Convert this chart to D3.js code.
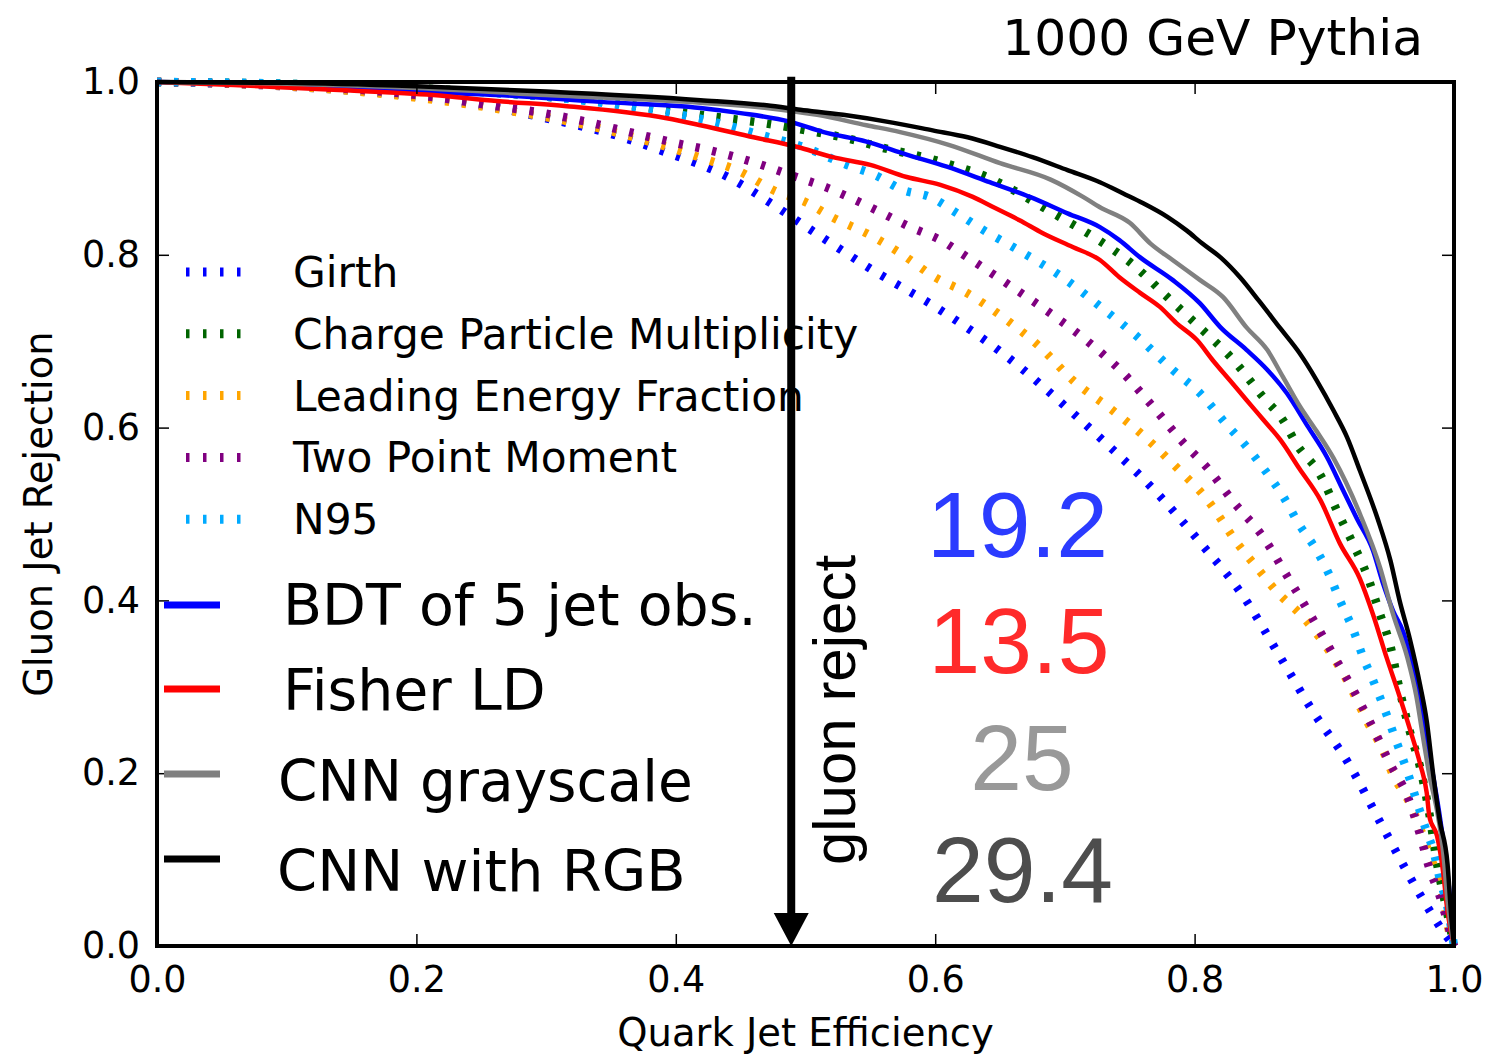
<!DOCTYPE html>
<html>
<head>
<meta charset="utf-8">
<script src="https://cdn.jsdelivr.net/npm/d3@7"></script>
<style>
  html, body { margin: 0; padding: 0; background: #fff; }
  svg { display: block; }
</style>
</head>
<body>
<svg id="chart" width="1500" height="1054"></svg>
<script>
// ---------------- DATA ----------------
const xTicks = [0, 0.2, 0.4, 0.6, 0.8, 1.0];
const yTicks = [0, 0.2, 0.4, 0.6, 0.8, 1.0];
const tickLabels = ["0.0", "0.2", "0.4", "0.6", "0.8", "1.0"];

const girth = [[0,1.0],[0.1,0.995],[0.2,0.983],[0.262,0.970],[0.3,0.958],[0.35,0.940],[0.388,0.921],[0.444,0.887],[0.473,0.860],[0.493,0.840],[0.55,0.784],[0.604,0.736],[0.652,0.686],[0.706,0.617],[0.733,0.580],[0.768,0.529],[0.806,0.464],[0.837,0.406],[0.867,0.332],[0.891,0.272],[0.918,0.213],[0.945,0.138],[0.974,0.059],[0.992,0.016],[1.0,0.0]];
const chargeMult = [[0,1.0],[0.1,0.998],[0.2,0.993],[0.3,0.983],[0.35,0.976],[0.429,0.960],[0.478,0.950],[0.501,0.944],[0.537,0.933],[0.559,0.924],[0.594,0.912],[0.617,0.902],[0.640,0.890],[0.660,0.875],[0.691,0.848],[0.725,0.818],[0.753,0.788],[0.779,0.751],[0.804,0.716],[0.830,0.678],[0.853,0.635],[0.868,0.609],[0.879,0.580],[0.897,0.545],[0.910,0.503],[0.922,0.466],[0.933,0.429],[0.943,0.384],[0.951,0.347],[0.958,0.297],[0.966,0.248],[0.974,0.206],[0.981,0.153],[0.987,0.095],[0.995,0.037],[1.0,0.0]];
const leadEnergy = [[0,1.0],[0.1,0.995],[0.2,0.982],[0.262,0.969],[0.331,0.950],[0.424,0.910],[0.447,0.898],[0.478,0.873],[0.500,0.861],[0.520,0.844],[0.552,0.821],[0.573,0.802],[0.601,0.773],[0.623,0.757],[0.652,0.728],[0.681,0.693],[0.706,0.655],[0.735,0.622],[0.758,0.594],[0.786,0.554],[0.810,0.516],[0.833,0.466],[0.848,0.438],[0.864,0.409],[0.884,0.380],[0.907,0.334],[0.918,0.306],[0.933,0.260],[0.945,0.227],[0.953,0.198],[0.966,0.165],[0.974,0.136],[0.981,0.106],[0.987,0.082],[0.992,0.053],[0.997,0.012],[1.0,0.0]];
const twoPoint = [[0,1.0],[0.1,0.996],[0.2,0.985],[0.262,0.972],[0.298,0.964],[0.331,0.954],[0.367,0.941],[0.401,0.929],[0.426,0.921],[0.460,0.907],[0.493,0.890],[0.516,0.878],[0.550,0.855],[0.581,0.832],[0.604,0.817],[0.625,0.797],[0.660,0.762],[0.691,0.730],[0.719,0.698],[0.745,0.663],[0.768,0.624],[0.791,0.583],[0.810,0.553],[0.830,0.514],[0.853,0.473],[0.871,0.429],[0.889,0.384],[0.907,0.337],[0.925,0.289],[0.938,0.251],[0.951,0.210],[0.964,0.174],[0.974,0.128],[0.981,0.090],[0.989,0.058],[0.997,0.016],[1.0,0.0]];
const n95 = [[0,1.0],[0.1,0.998],[0.2,0.992],[0.3,0.983],[0.367,0.971],[0.429,0.954],[0.465,0.939],[0.498,0.925],[0.532,0.904],[0.554,0.892],[0.575,0.875],[0.596,0.867],[0.617,0.848],[0.640,0.826],[0.660,0.809],[0.699,0.773],[0.729,0.738],[0.756,0.705],[0.783,0.667],[0.804,0.640],[0.825,0.603],[0.840,0.578],[0.856,0.547],[0.868,0.521],[0.881,0.487],[0.894,0.458],[0.904,0.429],[0.912,0.400],[0.922,0.367],[0.930,0.334],[0.938,0.306],[0.948,0.268],[0.956,0.235],[0.964,0.202],[0.971,0.169],[0.979,0.132],[0.984,0.111],[0.989,0.078],[0.995,0.045],[1.0,0.0]];
const bdt = [[0,1.0],[0.1,0.997],[0.213,0.988],[0.262,0.985],[0.342,0.977],[0.419,0.970],[0.450,0.964],[0.488,0.954],[0.514,0.942],[0.547,0.931],[0.578,0.916],[0.609,0.902],[0.642,0.884],[0.673,0.867],[0.702,0.848],[0.727,0.832],[0.742,0.817],[0.758,0.797],[0.783,0.771],[0.804,0.744],[0.820,0.716],[0.840,0.690],[0.856,0.667],[0.871,0.640],[0.887,0.602],[0.902,0.566],[0.914,0.529],[0.925,0.495],[0.9375,0.458],[0.945,0.421],[0.953,0.388],[0.961,0.363],[0.970,0.31],[0.980,0.23],[0.990,0.14],[0.996,0.07],[1.0,0.0]];
const fisher = [[0,1.0],[0.059,0.9965],[0.136,0.991],[0.213,0.985],[0.262,0.978],[0.316,0.972],[0.393,0.958],[0.419,0.950],[0.460,0.936],[0.493,0.925],[0.521,0.913],[0.550,0.904],[0.578,0.890],[0.604,0.881],[0.629,0.867],[0.645,0.855],[0.665,0.840],[0.683,0.825],[0.706,0.809],[0.727,0.794],[0.742,0.774],[0.758,0.756],[0.773,0.740],[0.786,0.721],[0.802,0.701],[0.814,0.678],[0.827,0.655],[0.840,0.632],[0.853,0.609],[0.866,0.586],[0.881,0.552],[0.897,0.516],[0.912,0.466],[0.9275,0.425],[0.9375,0.384],[0.948,0.334],[0.958,0.289],[0.966,0.251],[0.974,0.210],[0.979,0.177],[0.981,0.150],[0.987,0.127],[0.9915,0.087],[0.995,0.040],[1.0,0.0]];
const cnnGray = [[0,1.0],[0.1,0.998],[0.2,0.993],[0.3,0.985],[0.419,0.976],[0.470,0.970],[0.509,0.962],[0.547,0.950],[0.573,0.942],[0.611,0.927],[0.650,0.906],[0.689,0.887],[0.714,0.867],[0.727,0.855],[0.750,0.837],[0.766,0.813],[0.783,0.794],[0.804,0.771],[0.822,0.751],[0.840,0.716],[0.856,0.690],[0.868,0.659],[0.881,0.625],[0.894,0.596],[0.907,0.565],[0.9275,0.500],[0.943,0.438],[0.953,0.384],[0.964,0.334],[0.971,0.289],[0.976,0.243],[0.981,0.198],[0.987,0.156],[0.9915,0.111],[0.995,0.053],[1.0,0.0]];
const cnnRGB = [[0,1.0],[0.1,0.999],[0.2,0.995],[0.3,0.989],[0.419,0.979],[0.470,0.973],[0.496,0.968],[0.529,0.962],[0.567,0.953],[0.598,0.944],[0.625,0.936],[0.650,0.925],[0.675,0.913],[0.702,0.898],[0.727,0.884],[0.745,0.871],[0.760,0.860],[0.779,0.844],[0.794,0.828],[0.806,0.813],[0.820,0.797],[0.835,0.774],[0.850,0.746],[0.866,0.715],[0.881,0.686],[0.894,0.655],[0.907,0.620],[0.9175,0.589],[0.9275,0.550],[0.941,0.495],[0.951,0.446],[0.958,0.400],[0.966,0.355],[0.974,0.301],[0.979,0.260],[0.984,0.198],[0.989,0.145],[0.995,0.095],[0.998,0.032],[1.0,0.0]];

const dottedNames = ["Girth", "Charge Particle Multiplicity", "Leading Energy Fraction", "Two Point Moment", "N95"];
const dottedColors = ["#0000ff", "#006400", "#ffa500", "#800080", "#00aaff"];
const dottedData = [girth, chargeMult, leadEnergy, twoPoint, n95];

const solidNames = ["BDT of 5 jet obs.", "Fisher LD", "CNN grayscale", "CNN with RGB"];
const solidColors = ["#0000ff", "#ff0000", "#808080", "#000000"];
const solidData = [bdt, fisher, cnnGray, cnnRGB];

const rejectValues = ["19.2", "13.5", "25", "29.4"];
const rejectColors = ["#2b3bff", "#ff2a2a", "#999999", "#4d4d4d"];

const workingPoint = 0.489;   // quark efficiency of the arrow
const titleText = "1000 GeV Pythia";
const xLabel = "Quark Jet Efficiency";
const yLabel = "Gluon Jet Rejection";

// ---------------- LAYOUT ----------------
const svg = d3.select("#chart");
const L = 157, R = 1454, T = 82, B = 946;
const x = d3.scaleLinear().domain([0, 1]).range([L, R]);
const y = d3.scaleLinear().domain([0, 1]).range([B, T]);
const DV = "'DejaVu Sans', sans-serif";
const LS = "'Liberation Sans', Arial, sans-serif";

const line = d3.line().x(d => x(d[0])).y(d => y(d[1])).curve(d3.curveMonotoneX);

// curves
const gCurves = svg.append("g");
dottedData.forEach((d, i) => {
  gCurves.append("path").attr("d", line(d)).attr("fill", "none")
    .attr("stroke", dottedColors[i]).attr("stroke-width", 8.5)
    .attr("stroke-dasharray", "4.2,12.8");
});
solidData.forEach((d, i) => {
  gCurves.append("path").attr("d", line(d)).attr("fill", "none")
    .attr("stroke", solidColors[i]).attr("stroke-width", 4.5)
    .attr("stroke-linejoin", "round");
});

// axes (inward ticks on all sides)
const tickLen = 12;
const axB = d3.axisBottom(x).tickValues(xTicks).tickFormat((d, i) => tickLabels[i]).tickSizeInner(-tickLen).tickSizeOuter(0).tickPadding(20);
const axT = d3.axisTop(x).tickValues(xTicks).tickFormat("").tickSizeInner(-tickLen).tickSizeOuter(0);
const axL = d3.axisLeft(y).tickValues(yTicks).tickFormat((d, i) => tickLabels[i]).tickSizeInner(-tickLen).tickSizeOuter(0).tickPadding(17);
const axR = d3.axisRight(y).tickValues(yTicks).tickFormat("").tickSizeInner(-tickLen).tickSizeOuter(0);

function styleAxis(g) {
  g.select(".domain").remove();
  g.selectAll(".tick line").attr("stroke", "#000").attr("stroke-width", 1.5);
  g.selectAll(".tick text").attr("font-family", DV).attr("font-size", 36.5).attr("fill", "#000");
}
svg.append("g").attr("transform", `translate(0,${B})`).call(axB).call(styleAxis);
svg.append("g").attr("transform", `translate(0,${T})`).call(axT).call(styleAxis);
svg.append("g").attr("transform", `translate(${L},0)`).call(axL).call(styleAxis);
svg.append("g").attr("transform", `translate(${R},0)`).call(axR).call(styleAxis);

// frame
svg.append("rect").attr("x", L).attr("y", T).attr("width", R - L).attr("height", B - T)
  .attr("fill", "none").attr("stroke", "#000").attr("stroke-width", 4);

// titles
svg.append("text").attr("x", 1423).attr("y", 55).attr("text-anchor", "end")
  .attr("font-family", DV).attr("font-size", 50.3).text(titleText);
svg.append("text").attr("x", (L + R) / 2).attr("y", 1046).attr("text-anchor", "middle")
  .attr("font-family", DV).attr("font-size", 38.5).text(xLabel);
svg.append("text").attr("transform", `translate(52,${(T + B) / 2}) rotate(-90)`)
  .attr("text-anchor", "middle").attr("font-family", DV).attr("font-size", 38.5).text(yLabel);

// small legend (dotted observables)
const gLeg = svg.append("g");
dottedNames.forEach((name, i) => {
  const yy = 272 + i * 61.8;
  gLeg.append("line").attr("x1", 186).attr("x2", 243).attr("y1", yy).attr("y2", yy)
    .attr("stroke", dottedColors[i]).attr("stroke-width", 9).attr("stroke-dasharray", "3.5,13.5");
  gLeg.append("text").attr("x", 293).attr("y", yy + 15).attr("font-family", DV)
    .attr("font-size", 42.3).text(name);
});

// big legend (solid)
const bigHandleY = [605, 689, 774, 859];
const bigTextY = [625, 710, 801, 891];
const bigTextX = [283, 283, 278, 277];
const bigTextSize = [57, 57, 56.5, 57.5];
solidNames.forEach((name, i) => {
  gLeg.append("line").attr("x1", 164).attr("x2", 220).attr("y1", bigHandleY[i]).attr("y2", bigHandleY[i])
    .attr("stroke", solidColors[i]).attr("stroke-width", 7);
  gLeg.append("text").attr("x", bigTextX[i]).attr("y", bigTextY[i]).attr("font-family", DV)
    .attr("font-size", bigTextSize[i]).text(name);
});

// arrow at working point
const ax = x(workingPoint);
svg.append("line").attr("x1", ax).attr("x2", ax).attr("y1", y(1.006)).attr("y2", B - 30)
  .attr("stroke", "#000").attr("stroke-width", 8);
svg.append("path").attr("d", `M${ax - 17.5},${B - 33} L${ax + 17.5},${B - 33} L${ax},${B} Z`).attr("fill", "#000");

// "gluon reject" label
svg.append("text").attr("transform", `translate(855,710) rotate(-90)`).attr("text-anchor", "middle")
  .attr("font-family", LS).attr("font-size", 60).text("gluon reject");

// rejection numbers
const numY = [557, 673, 790, 902];
const numX = [1017.5, 1019, 1022, 1022.5];
rejectValues.forEach((v, i) => {
  svg.append("text").attr("x", numX[i]).attr("y", numY[i]).attr("text-anchor", "middle")
    .attr("font-family", LS).attr("font-size", 93).attr("fill", rejectColors[i]).text(v);
});
</script>
</body>
</html>
